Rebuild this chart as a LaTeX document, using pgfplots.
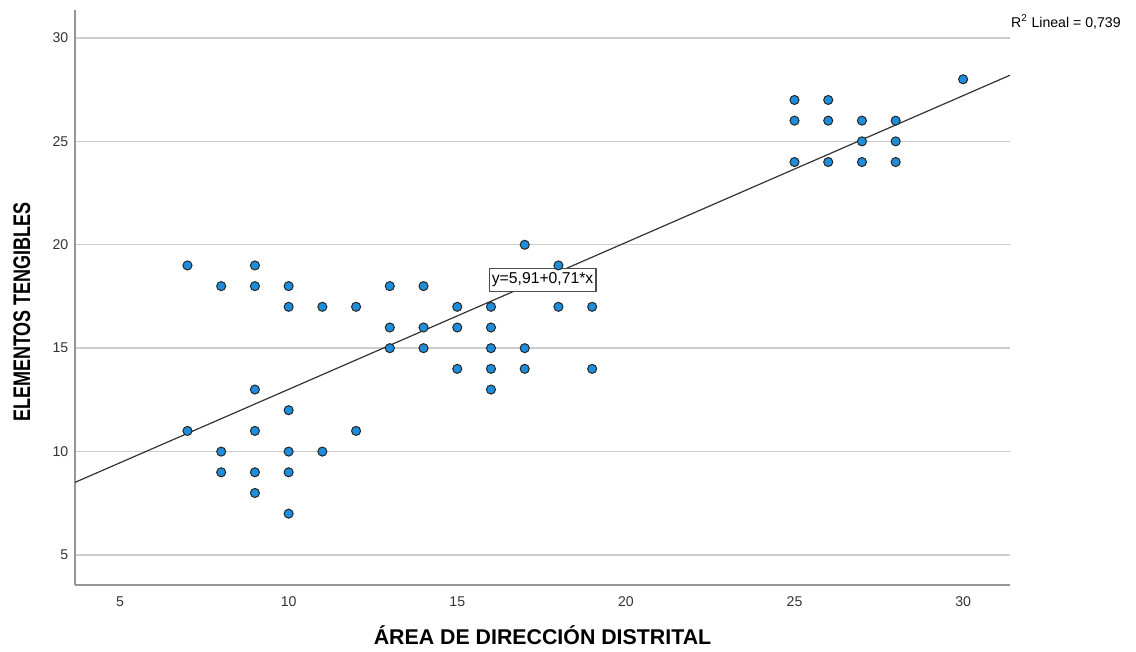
\documentclass[border=0pt]{standalone}
\usepackage{pgfplots}
\pgfplotsset{compat=1.18}
\usepackage{fontspec}
\setmainfont{Liberation Sans}
\definecolor{ptblue}{RGB}{30,142,220}
\definecolor{gridg}{RGB}{205,205,205}
\definecolor{axg}{RGB}{150,150,150}
\begin{document}
\begin{tikzpicture}
\useasboundingbox (-56.25pt,-49.5pt) rectangle (795.75pt,438.75pt);
\begin{axis}[
  at={(0,0)}, anchor=south west,
  scale only axis,
  width=701.25pt, height=431.25pt,
  xmin=3.665, xmax=31.39, ymin=3.55, ymax=31.35,
  axis x line*=bottom, axis y line*=left,
  axis line style={axg, line width=0.9pt},
  xtick={5,10,...,30}, ytick={5,10,...,30},
  ymajorgrids, grid style={gridg, line width=1.1pt},
  major tick length=0pt,
  /pgf/number format/assume math mode=true,
  ticklabel style={font=\fontsize{10.6pt}{12pt}\selectfont, text=black!80},
  xticklabel style={yshift=-5pt},
  yticklabel style={xshift=-1.5pt},
  xlabel={\textbf{ÁREA DE DIRECCIÓN DISTRITAL}},
  ylabel={\scalebox{0.75}[1]{\textbf{ELEMENTOS TENGIBLES}}},
  xlabel style={at={(axis description cs:0.5,-0.087)}, anchor=center, font=\fontsize{16pt}{18pt}\selectfont},
  ylabel style={at={(axis description cs:-0.0567,0.475)}, anchor=center, rotate=0, font=\fontsize{18pt}{20pt}\selectfont},
  clip=false,
]
\addplot[black!80, line width=0.9pt] coordinates {(3.665,8.512) (31.39,28.197)};
\addplot[only marks, mark=*, mark size=3.4pt, mark options={fill=ptblue, draw=black!85, line width=0.75pt}] table {
x y
7 19
7 11
8 18
8 10
8 9
9 19
9 18
9 13
9 11
9 9
9 8
10 18
10 17
10 12
10 10
10 9
10 7
11 17
11 10
12 17
12 11
13 18
13 16
13 15
14 18
14 16
14 15
15 17
15 16
15 14
16 17
16 16
16 15
16 14
16 13
17 20
17 15
17 14
18 19
18 17
19 17
19 14
25 27
25 26
25 24
26 27
26 26
26 24
27 26
27 25
27 24
28 26
28 25
28 24
30 28
};
\node[draw=black!70, fill=white, line width=0.8pt, inner xsep=2pt, inner ysep=3pt, font=\fontsize{11.8pt}{13pt}\selectfont] at (axis cs:17.53,18.30) {y=5,91+0,71*x};
\node[anchor=west, inner sep=0pt, font=\fontsize{10.6pt}{12pt}\selectfont] at (rel axis cs:1.001,0.979) {R\textsuperscript{2} Lineal = 0,739};
\end{axis}
\end{tikzpicture}
\end{document}
